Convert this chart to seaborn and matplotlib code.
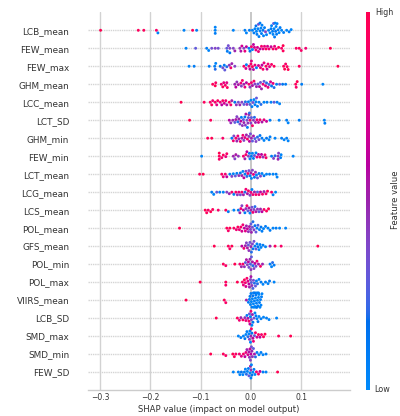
import numpy as np
import pandas as pd
import matplotlib
matplotlib.use("Agg")
import matplotlib.pyplot as plt
import matplotlib.colors as mcolors
import seaborn as sns

# ---------------- data ----------------
features = ["LCB_mean", "FEW_mean", "FEW_max", "GHM_mean", "LCC_mean", "LCT_SD",
            "GHM_min", "FEW_min", "LCT_mean", "LCG_mean", "LCS_mean", "POL_mean",
            "GFS_mean", "POL_min", "POL_max", "VIIRS_mean", "LCB_SD", "SMD_max",
            "SMD_min", "FEW_SD"]

LCB_mean_shap = [-0.299, -0.224, -0.213, -0.188, -0.185, -0.133, -0.116, -0.108, -0.071, -0.071,
                 -0.071, -0.035, -0.012, -0.009, -0.003, 0.003, 0.006, 0.008, 0.010, 0.011,
                 0.012, 0.014, 0.015, 0.016, 0.018, 0.018, 0.020, 0.021, 0.022, 0.024,
                 0.025, 0.027, 0.029, 0.031, 0.035, 0.038, 0.040, 0.041, 0.043, 0.044,
                 0.045, 0.046, 0.047, 0.048, 0.049, 0.050, 0.051, 0.052, 0.054, 0.056,
                 0.058, 0.061, 0.065, 0.071, 0.076, 0.080]
LCB_mean_val = [1.0, 0.95, 0.95, 0.9, 0.05, 0.05, 0.95, 0.08, 0.05, 0.1,
                0.05, 0.05, 0.1, 0.05, 0.1, 0.05, 0.1, 0.05, 0.15, 0.05,
                0.1, 0.05, 0.35, 0.1, 0.05, 0.1, 0.05, 0.1, 0.05, 0.15,
                0.05, 0.1, 0.4, 0.05, 0.1, 0.05, 0.1, 0.05, 0.1, 0.05,
                0.3, 0.05, 0.1, 0.05, 0.15, 0.05, 0.1, 0.05, 0.1, 0.05,
                0.1, 0.05, 0.1, 0.05, 0.1, 0.05]

FEW_mean_shap = [-0.129, -0.110, -0.088, -0.084, -0.078, -0.071, -0.065, -0.048, -0.047, -0.045,
                 -0.042, -0.042, -0.035, -0.032, -0.022, -0.020, -0.018, -0.014, -0.012, -0.009,
                 -0.004, -0.002, 0.001, 0.003, 0.005, 0.007, 0.010, 0.013, 0.015, 0.018,
                 0.021, 0.024, 0.027, 0.030, 0.033, 0.036, 0.040, 0.044, 0.047, 0.050,
                 0.055, 0.061, 0.064, 0.064, 0.090, 0.096, 0.100, 0.109, 0.158]
FEW_mean_val = [0.05, 0.3, 0.1, 0.05, 0.35, 0.4, 0.35, 0.3, 0.1, 0.35,
                0.4, 0.15, 0.4, 0.5, 0.45, 0.55, 0.7, 0.4, 0.8, 0.6,
                0.1, 0.15, 0.9, 0.05, 0.6, 0.7, 0.8, 0.7, 0.85, 0.6,
                0.9, 0.75, 0.8, 0.95, 0.7, 0.85, 0.65, 0.9, 0.8, 0.85,
                0.95, 0.9, 0.95, 1.0, 0.9, 0.95, 0.9, 0.85, 1.0]

FEW_max_shap = [-0.123, -0.113, -0.083, -0.072, -0.071, -0.070, -0.061, -0.056, -0.053, -0.052,
                -0.048, -0.043, -0.040, -0.038, -0.032, -0.014, -0.010, -0.009, -0.004, -0.002,
                0.000, 0.001, 0.003, 0.005, 0.008, 0.011, 0.015, 0.019, 0.022, 0.024,
                0.026, 0.030, 0.032, 0.034, 0.037, 0.041, 0.046, 0.065, 0.067, 0.069,
                0.072, 0.074, 0.096, 0.173]
FEW_max_val = [0.05, 0.1, 0.1, 0.1, 0.2, 0.05, 0.15, 0.35, 0.1, 0.3,
               0.2, 0.45, 0.9, 0.5, 0.4, 0.9, 0.7, 0.05, 0.85, 0.6,
               0.9, 0.75, 0.95, 0.55, 0.8, 0.05, 0.7, 0.85, 0.6, 0.9,
               0.8, 0.95, 0.65, 0.85, 0.75, 0.9, 0.95, 0.95, 1.0, 0.9,
               0.95, 1.0, 0.95, 1.0]

GHM_mean_shap = [-0.076, -0.071, -0.070, -0.059, -0.056, -0.054, -0.051, -0.048, -0.047, -0.032,
                 -0.030, -0.028, -0.025, -0.020, -0.019, -0.017, -0.014, -0.012, -0.009, -0.004,
                 -0.002, 0.001, 0.003, 0.006, 0.008, 0.011, 0.014, 0.017, 0.019, 0.021,
                 0.024, 0.026, 0.029, 0.031, 0.034, 0.036, 0.039, 0.041, 0.044, 0.046,
                 0.051, 0.057, 0.063, 0.069, 0.089, 0.090, 0.092, 0.101, 0.143]
GHM_mean_val = [0.95, 1.0, 0.9, 0.85, 0.95, 0.8, 0.9, 0.75, 0.95, 0.5,
                0.6, 0.45, 0.55, 0.85, 0.4, 0.9, 0.5, 0.8, 0.6, 0.9,
                0.45, 0.85, 0.55, 0.9, 0.4, 0.5, 0.3, 0.6, 0.35, 0.5,
                0.85, 0.3, 0.75, 0.2, 0.8, 0.25, 0.7, 0.15, 0.8, 0.2,
                0.1, 0.3, 0.15, 0.1, 0.95, 0.9, 1.0, 0.1, 0.05]

LCC_mean_shap = [-0.139, -0.093, -0.081, -0.078, -0.076, -0.071, -0.068, -0.066, -0.061, -0.058,
                 -0.056, -0.053, -0.050, -0.048, -0.043, -0.040, -0.038, -0.032, -0.029, -0.025,
                 -0.022, -0.018, -0.014, -0.011, -0.008, -0.005, -0.002, 0.000, 0.002, 0.004,
                 0.006, 0.008, 0.010, 0.011, 0.013, 0.016, 0.020, 0.026, 0.032, 0.040,
                 0.046, 0.052, 0.057]
LCC_mean_val = [1.0, 0.95, 0.9, 0.95, 0.85, 0.9, 0.75, 0.95, 0.8, 0.6,
                0.9, 0.7, 0.85, 0.55, 0.95, 0.9, 0.5, 0.15, 0.45, 0.35,
                0.5, 0.4, 0.3, 0.2, 0.45, 0.1, 0.25, 0.05, 0.1, 0.35,
                0.05, 0.1, 0.05, 0.3, 0.1, 0.05, 0.2, 0.05, 0.1, 0.05,
                0.3, 0.1, 0.05]

LCT_SD_shap = [-0.122, -0.080, -0.043, -0.040, -0.036, -0.032, -0.030, -0.028, -0.026, -0.024,
               -0.022, -0.020, -0.019, -0.017, -0.015, -0.014, -0.012, -0.011, -0.010, -0.008,
               -0.007, -0.006, -0.005, -0.004, -0.003, -0.002, 0.000, 0.001, 0.003, 0.005,
               0.007, 0.009, 0.012, 0.015, 0.018, 0.022, 0.026, 0.031, 0.038, 0.056,
               0.071, 0.074, 0.096, 0.146, 0.147]
LCT_SD_val = [1.0, 0.95, 0.6, 0.45, 0.5, 0.3, 0.55, 0.4, 0.2, 0.5,
              0.35, 0.6, 0.1, 0.45, 0.3, 0.5, 0.15, 0.4, 0.55, 0.35,
              0.1, 0.45, 0.3, 0.5, 0.2, 0.85, 0.4, 0.3, 0.9, 0.45,
              0.2, 0.5, 0.85, 0.7, 0.9, 0.55, 0.8, 0.65, 0.1, 0.05,
              0.1, 0.05, 0.1, 0.05, 0.1]

GHM_min_shap = [-0.086, -0.078, -0.056, -0.038, -0.035, -0.034, -0.030, -0.028, -0.026, -0.024,
                -0.021, -0.018, -0.016, -0.014, -0.012, -0.009, -0.007, -0.004, -0.003, -0.001,
                0.001, 0.003, 0.005, 0.008, 0.010, 0.013, 0.016, 0.018, 0.022, 0.026,
                0.031, 0.036, 0.038, 0.048, 0.061, 0.066, 0.071, 0.074]
GHM_min_val = [0.95, 1.0, 0.9, 0.1, 0.85, 0.4, 0.9, 0.5, 0.8, 0.45,
               0.9, 0.55, 0.85, 0.4, 0.75, 0.5, 0.9, 0.45, 0.6, 0.35,
               0.5, 0.3, 0.55, 0.25, 0.4, 0.2, 0.35, 0.15, 0.1, 0.05,
               0.15, 0.05, 0.1, 0.05, 0.1, 0.05, 0.1, 0.05]

FEW_min_shap = [-0.098, -0.063, -0.063, -0.063, -0.058, -0.055, -0.050, -0.048, -0.035, -0.032,
                -0.030, -0.025, -0.015, -0.012, -0.010, -0.008, -0.005, -0.003, -0.002, 0.001,
                0.003, 0.005, 0.007, 0.010, 0.012, 0.015, 0.018, 0.021, 0.024, 0.028,
                0.030, 0.041, 0.045, 0.048, 0.054, 0.054, 0.055, 0.059, 0.060, 0.084]
FEW_min_val = [0.05, 0.95, 0.9, 1.0, 0.85, 0.95, 0.8, 0.9, 0.5, 0.4,
               0.55, 0.45, 0.85, 0.5, 0.9, 0.6, 0.4, 0.1, 0.05, 0.15,
               0.05, 0.1, 0.3, 0.05, 0.8, 0.55, 0.9, 0.6, 0.45, 0.85,
               0.9, 0.1, 0.4, 0.2, 0.45, 0.5, 0.4, 0.1, 0.05, 0.05]

LCT_mean_shap = [-0.102, -0.095, -0.058, -0.055, -0.051, -0.048, -0.042, -0.038, -0.035, -0.031,
                 -0.028, -0.024, -0.021, -0.018, -0.016, -0.014, -0.012, -0.010, -0.008, -0.006,
                 -0.004, -0.002, 0.000, 0.001, 0.003, 0.005, 0.007, 0.009, 0.011, 0.013,
                 0.016, 0.019, 0.022, 0.026, 0.031, 0.037, 0.044, 0.050, 0.052]
LCT_mean_val = [0.95, 1.0, 0.9, 0.8, 0.85, 0.6, 0.1, 0.4, 0.05, 0.3,
                0.1, 0.45, 0.15, 0.5, 0.05, 0.6, 0.1, 0.4, 0.2, 0.85,
                0.35, 0.1, 0.5, 0.05, 0.4, 0.8, 0.15, 0.45, 0.05, 0.3,
                0.1, 0.4, 0.05, 0.15, 0.05, 0.1, 0.05, 0.1, 0.05]

LCG_mean_shap = [-0.078, -0.074, -0.068, -0.062, -0.055, -0.048, -0.043, -0.038, -0.034, -0.030,
                 -0.027, -0.024, -0.021, -0.018, -0.015, -0.012, -0.010, -0.007, -0.005, -0.002,
                 0.000, 0.002, 0.004, 0.007, 0.010, 0.013, 0.016, 0.019, 0.023, 0.026,
                 0.030, 0.033, 0.041, 0.044, 0.049]
LCG_mean_val = [0.1, 0.05, 0.3, 0.1, 0.05, 0.4, 0.5, 0.85, 0.1, 0.9,
                0.45, 0.8, 0.35, 0.9, 0.5, 0.2, 0.85, 0.55, 0.9, 0.4,
                0.8, 0.1, 0.85, 0.5, 0.9, 0.3, 0.85, 0.6, 0.9, 0.5,
                0.85, 0.95, 0.9, 0.1, 0.05]

LCS_mean_shap = [-0.091, -0.088, -0.085, -0.080, -0.076, -0.065, -0.050, -0.045, -0.034, -0.025,
                 -0.022, -0.020, -0.018, -0.015, -0.012, -0.010, -0.008, -0.006, -0.004, -0.002,
                 0.000, 0.002, 0.004, 0.006, 0.008, 0.010, 0.013, 0.016, 0.019, 0.022,
                 0.026, 0.031, 0.035]
LCS_mean_val = [1.0, 0.95, 0.9, 1.0, 0.95, 0.9, 0.95, 0.1, 0.05, 0.15,
                0.5, 0.85, 0.4, 0.6, 0.1, 0.45, 0.9, 0.3, 0.55, 0.05,
                0.5, 0.35, 0.85, 0.4, 0.2, 0.55, 0.45, 0.3, 0.5, 0.6,
                0.9, 0.95, 1.0]

POL_mean_shap = [-0.142, -0.048, -0.045, -0.042, -0.034, -0.029, -0.026, -0.023, -0.020, -0.018,
                 -0.016, -0.013, -0.011, -0.009, -0.007, -0.005, -0.003, -0.001, 0.000, 0.001,
                 0.003, 0.004, 0.006, 0.008, 0.010, 0.012, 0.014, 0.017, 0.020, 0.022,
                 0.025, 0.029, 0.034, 0.038, 0.044, 0.050, 0.057, 0.069]
POL_mean_val = [1.0, 0.95, 0.9, 1.0, 0.9, 0.85, 0.95, 0.8, 0.9, 0.7,
                0.85, 0.6, 0.75, 0.5, 0.65, 0.45, 0.55, 0.4, 0.3, 0.5,
                0.35, 0.2, 0.4, 0.15, 0.3, 0.1, 0.25, 0.05, 0.15, 0.1,
                0.05, 0.1, 0.05, 0.1, 0.05, 0.1, 0.05, 0.05]

GFS_mean_shap = [-0.073, -0.045, -0.042, -0.038, -0.018, -0.014, -0.011, -0.009, -0.007, -0.005,
                 -0.004, -0.002, 0.000, 0.001, 0.003, 0.004, 0.006, 0.008, 0.010, 0.012,
                 0.014, 0.016, 0.018, 0.020, 0.024, 0.029, 0.038, 0.048, 0.060, 0.133]
GFS_mean_val = [1.0, 0.95, 0.9, 1.0, 0.6, 0.85, 0.5, 0.4, 0.55, 0.3,
                0.45, 0.35, 0.5, 0.2, 0.4, 0.15, 0.35, 0.1, 0.3, 0.05,
                0.15, 0.05, 0.1, 0.05, 0.1, 0.05, 0.5, 0.95, 0.9, 1.0]

POL_min_shap = [-0.055, -0.050, -0.032, -0.022, -0.019, -0.016, -0.013, -0.011, -0.009, -0.007,
                -0.005, -0.004, -0.002, -0.001, 0.000, 0.001, 0.003, 0.004, 0.006, 0.008,
                0.010, 0.012, 0.015, 0.019, 0.023, 0.038, 0.041, 0.043, 0.046]
POL_min_val = [0.95, 0.9, 1.0, 0.85, 0.5, 0.9, 0.45, 0.3, 0.55, 0.4,
               0.6, 0.35, 0.5, 0.25, 0.45, 0.3, 0.55, 0.2, 0.4, 0.6,
               0.35, 0.85, 0.55, 0.9, 0.5, 0.1, 0.05, 0.2, 0.1]

POL_max_shap = [-0.101, -0.050, -0.050, -0.027, -0.017, -0.015, -0.013, -0.011, -0.010, -0.008,
                -0.006, -0.004, -0.003, -0.001, 0.000, 0.001, 0.002, 0.004, 0.005, 0.007,
                0.009, 0.011, 0.013, 0.016, 0.020, 0.024, 0.029, 0.034, 0.037, 0.046]
POL_max_val = [1.0, 0.95, 0.9, 1.0, 0.9, 0.8, 0.95, 0.85, 0.7, 0.9,
               0.75, 0.6, 0.5, 0.4, 0.55, 0.3, 0.45, 0.25, 0.35, 0.2,
               0.3, 0.1, 0.2, 0.05, 0.1, 0.05, 0.1, 0.05, 0.15, 0.05]

VIIRS_mean_shap = [-0.129, -0.053, -0.050, -0.009, -0.005, -0.003, -0.002, -0.001, 0.000, 0.001,
                   0.002, 0.003, 0.004, 0.005, 0.005, 0.006, 0.007, 0.008, 0.008, 0.009,
                   0.010, 0.010, 0.011, 0.012, 0.012, 0.013, 0.014, 0.015, 0.015, 0.016,
                   0.017, 0.018, 0.019, 0.020, 0.021, 0.022]
VIIRS_mean_val = [1.0, 0.95, 0.9, 0.5, 0.1, 0.05, 0.15, 0.05, 0.1, 0.05,
                  0.1, 0.05, 0.15, 0.05, 0.1, 0.05, 0.1, 0.05, 0.15, 0.05,
                  0.1, 0.05, 0.1, 0.05, 0.15, 0.05, 0.1, 0.05, 0.1, 0.05,
                  0.1, 0.05, 0.1, 0.05, 0.1, 0.05]

LCB_SD_shap = [-0.069, -0.027, -0.023, -0.020, -0.016, -0.012, -0.010, -0.008, -0.006, -0.004,
               -0.003, -0.002, -0.001, 0.000, 0.001, 0.002, 0.003, 0.004, 0.006, 0.008,
               0.010, 0.012, 0.014, 0.016, 0.020, 0.025, 0.031, 0.036, 0.051]
LCB_SD_val = [1.0, 0.95, 0.85, 0.5, 0.9, 0.45, 0.8, 0.1, 0.55, 0.9,
              0.3, 0.6, 0.1, 0.85, 0.4, 0.05, 0.5, 0.15, 0.35, 0.05,
              0.1, 0.05, 0.15, 0.05, 0.1, 0.05, 0.1, 0.05, 0.05]

SMD_max_shap = [-0.025, -0.020, -0.015, -0.012, -0.010, -0.008, -0.006, -0.004, -0.003, -0.002,
                -0.001, 0.000, 0.001, 0.002, 0.004, 0.005, 0.007, 0.009, 0.012, 0.015,
                0.018, 0.021, 0.025, 0.028, 0.055, 0.079]
SMD_max_val = [0.05, 0.1, 0.05, 0.15, 0.05, 0.1, 0.2, 0.05, 0.4, 0.1,
               0.05, 0.5, 0.9, 0.15, 0.6, 0.85, 0.3, 0.9, 0.7, 0.95,
               0.6, 0.9, 0.95, 1.0, 0.95, 1.0]

SMD_min_shap = [-0.080, -0.055, -0.050, -0.036, -0.033, -0.030, -0.023, -0.019, -0.015, -0.012,
                -0.010, -0.008, -0.006, -0.004, -0.003, -0.002, -0.001, 0.000, 0.001, 0.002,
                0.003, 0.005, 0.007, 0.009, 0.012, 0.016, 0.020, 0.024, 0.030]
SMD_min_val = [1.0, 0.95, 0.9, 1.0, 0.95, 0.9, 0.85, 0.75, 0.9, 0.6,
               0.8, 0.5, 0.7, 0.55, 0.45, 0.65, 0.4, 0.6, 0.35, 0.5,
               0.45, 0.3, 0.55, 0.2, 0.1, 0.05, 0.1, 0.05, 0.1]

FEW_SD_shap = [-0.035, -0.025, -0.022, -0.019, -0.016, -0.013, -0.011, -0.009, -0.007, -0.005,
               -0.004, -0.002, -0.001, 0.000, 0.000, 0.001, 0.002, 0.004, 0.006, 0.008,
               0.011, 0.015, 0.018, 0.024, 0.030, 0.053]
FEW_SD_val = [0.05, 0.1, 0.05, 0.15, 0.05, 0.1, 0.05, 0.2, 0.05, 0.1,
              0.3, 0.05, 0.5, 0.45, 0.1, 0.05, 0.15, 0.05, 0.1, 0.05,
              0.85, 0.9, 0.6, 0.1, 0.05, 1.0]

xticks = [-0.3, -0.2, -0.1, 0.0, 0.1]
xticklabels = ["\u22120.3", "\u22120.2", "\u22120.1", "0.0", "0.1"]
xlabel = "SHAP value (impact on model output)"
cbar_label = "Feature value"
cbar_high, cbar_low = "High", "Low"

# ---------------- assemble long table ----------------
series = {
    "LCB_mean": (LCB_mean_shap, LCB_mean_val), "FEW_mean": (FEW_mean_shap, FEW_mean_val),
    "FEW_max": (FEW_max_shap, FEW_max_val), "GHM_mean": (GHM_mean_shap, GHM_mean_val),
    "LCC_mean": (LCC_mean_shap, LCC_mean_val), "LCT_SD": (LCT_SD_shap, LCT_SD_val),
    "GHM_min": (GHM_min_shap, GHM_min_val), "FEW_min": (FEW_min_shap, FEW_min_val),
    "LCT_mean": (LCT_mean_shap, LCT_mean_val), "LCG_mean": (LCG_mean_shap, LCG_mean_val),
    "LCS_mean": (LCS_mean_shap, LCS_mean_val), "POL_mean": (POL_mean_shap, POL_mean_val),
    "GFS_mean": (GFS_mean_shap, GFS_mean_val), "POL_min": (POL_min_shap, POL_min_val),
    "POL_max": (POL_max_shap, POL_max_val), "VIIRS_mean": (VIIRS_mean_shap, VIIRS_mean_val),
    "LCB_SD": (LCB_SD_shap, LCB_SD_val), "SMD_max": (SMD_max_shap, SMD_max_val),
    "SMD_min": (SMD_min_shap, SMD_min_val), "FEW_SD": (FEW_SD_shap, FEW_SD_val),
}
rows = []
for f in features:
    s, v = series[f]
    for a, b in zip(s, v):
        rows.append((f, a, b))
df = pd.DataFrame(rows, columns=["feature", "shap", "value"])

# ---------------- SHAP red-blue colormap (LCh interpolation) ----------------
def lch2rgb(l, c, h):
    a, b = c * np.cos(h), c * np.sin(h)
    fy = (l + 16) / 116.0
    fx, fz = fy + a / 500.0, fy - b / 200.0
    def finv(t):
        return t ** 3 if t ** 3 > 0.008856 else (t - 16 / 116.0) / 7.787
    X, Y, Z = 0.95047 * finv(fx), finv(fy), 1.08883 * finv(fz)
    M = np.array([[3.2406, -1.5372, -0.4986], [-0.9689, 1.8758, 0.0415], [0.0557, -0.2040, 1.0570]])
    lin = M @ np.array([X, Y, Z])
    lin = np.clip(lin, 0, None)
    srgb = np.where(lin <= 0.0031308, 12.92 * lin, 1.055 * lin ** (1 / 2.4) - 0.055)
    return np.clip(srgb, 0, 1)

blue_lch = [54., 70., 4.6588]
red_lch = [54., 90., 0.35470565 + 2 * np.pi]
nsteps = 100
l_vals = list(np.linspace(blue_lch[0], 40., nsteps // 2)) + list(np.linspace(40., red_lch[0], nsteps // 2))
c_vals = np.linspace(blue_lch[1], red_lch[1], nsteps)
h_vals = np.linspace(blue_lch[2], red_lch[2], nsteps)
cols = [lch2rgb(l, c, h) for l, c, h in zip(l_vals, c_vals, h_vals)]
red_blue = mcolors.LinearSegmentedColormap.from_list("red_blue", cols)

# ---------------- plot ----------------
sns.set_style("white")
plt.rcParams["font.family"] = ["DejaVu Sans"]
fig = plt.figure(figsize=(4.0, 4.16), dpi=100)
ax = fig.add_axes([88 / 400, 1 - 390 / 416, (350 - 88) / 400, (390 - 12.3) / 416])

for i in range(len(features)):
    ax.axhline(i, color="#d4d4d4", lw=1.0, dashes=(1.0, 0.6), zorder=0)
for xt in xticks:
    ax.axvline(xt, color="#d2d2d2" if xt != 0 else "#bdbdbd", lw=1.0 if xt != 0 else 1.2, zorder=0)

sns.swarmplot(data=df, x="shap", y="feature", hue="value", order=features,
              palette=red_blue, hue_norm=(0, 1), size=2.1, linewidth=0,
              legend=False, orient="h", ax=ax, zorder=3)

ax.set_xlim(-0.324, 0.197)
ax.set_ylim(len(features), -1)
ax.set_xticks(xticks)
ax.set_xticklabels(xticklabels)
ax.tick_params(axis="x", length=0, pad=2.5, labelsize=5.5, labelcolor="#333333")
ax.tick_params(axis="y", length=0, pad=13.5, labelsize=6.4, labelcolor="#333333")
ax.set_ylabel("")
ax.set_xlabel(xlabel, fontsize=6.1, color="#333333", labelpad=2)
for sp in ["top", "right", "left"]:
    ax.spines[sp].set_visible(False)
ax.spines["bottom"].set_color("#cccccc")
ax.spines["bottom"].set_linewidth(1.0)

# colorbar
cax = fig.add_axes([366 / 400, 1 - 390 / 416, 4 / 400, (390 - 12.3) / 416])
grad = np.linspace(0, 1, 256).reshape(-1, 1)
cax.imshow(grad, aspect="auto", cmap=red_blue, origin="lower", extent=[0, 1, 0, 1])
cax.set_axis_off()
fig.text(375 / 400, 1 - 12.5 / 416, cbar_high, fontsize=5.8, color="#333333", ha="left", va="center")
fig.text(374 / 400, 1 - 390 / 416, cbar_low, fontsize=5.8, color="#333333", ha="left", va="center")
fig.text(395 / 400, 1 - 200 / 416, cbar_label, fontsize=6.1, color="#333333", rotation=90,
         ha="center", va="center")

fig.savefig("out.png", dpi=100)
